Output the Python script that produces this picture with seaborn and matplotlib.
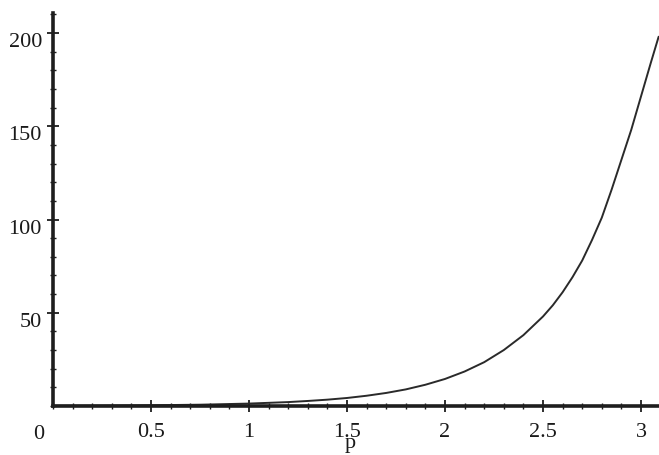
import numpy as np
import pandas as pd
import seaborn as sns
import matplotlib.pyplot as plt
from matplotlib.ticker import MultipleLocator

# values
p_values = [0.0, 0.25, 0.5, 0.75, 1.0, 1.1, 1.2, 1.3, 1.4, 1.5, 1.6, 1.7,
            1.8, 1.9, 2.0, 2.1, 2.2, 2.3, 2.4, 2.5, 2.55, 2.6, 2.65, 2.7,
            2.75, 2.8, 2.85, 2.9, 2.95, 3.0, 3.05, 3.09]
y_values = [0.1, 0.2, 0.4, 0.7, 1.3, 1.7, 2.1, 2.7, 3.4, 4.3, 5.5, 7.0,
            8.9, 11.4, 14.5, 18.5, 23.5, 30.0, 38.0, 48.0, 54.0, 61.0, 69.0, 78.0,
            89.0, 101.0, 116.0, 132.0, 148.0, 166.0, 184.0, 198.0]

x_ticks = [0.5, 1, 1.5, 2, 2.5, 3]
x_tick_labels = ["0.5", "1", "1.5", "2", "2.5", "3"]
y_ticks = [50, 100, 150, 200]
y_tick_labels = ["50", "100", "150", "200"]

df = pd.DataFrame({"p": p_values, "y": y_values})

sns.set_style("ticks")
plt.rcParams["font.family"] = ["Liberation Serif", "DejaVu Serif"]

fig = plt.figure(figsize=(6.59, 4.55), dpi=100)
ax = fig.add_axes([53 / 659, 49 / 455, 606 / 659, 393 / 455])

sns.lineplot(data=df, x="p", y="y", ax=ax, color="#2a2a2a", linewidth=1.4)

ax.set_xlim(0, 606 / 196)
ax.set_ylim(0, 393 / 1.865)

for side in ["top", "right"]:
    ax.spines[side].set_visible(False)
for side in ["left", "bottom"]:
    ax.spines[side].set_linewidth(2.6)
    ax.spines[side].set_color("#1e1e1e")

ax.set_xticks(x_ticks)
ax.set_xticklabels(x_tick_labels)
ax.set_yticks(y_ticks)
ax.set_yticklabels(y_tick_labels)
ax.xaxis.set_minor_locator(MultipleLocator(0.1))
ax.yaxis.set_minor_locator(MultipleLocator(10))

ax.tick_params(which="major", direction="inout", length=8, width=1.3,
               color="#1e1e1e", labelsize=16, labelcolor="#1a1a1a")
ax.tick_params(which="minor", direction="inout", length=4, width=1.0,
               color="#1e1e1e")
ax.tick_params(axis="x", which="major", pad=8)
ax.tick_params(axis="y", which="major", pad=4)
for lab in ax.get_yticklabels():
    lab.set_verticalalignment("top")

ax.set_xlabel("p", fontsize=16, color="#1a1a1a")
ax.set_ylabel("")
ax.xaxis.set_label_coords(0.49, -0.072)

# origin label, Maple style
ax.annotate("0", xy=(0, 0), xytext=(-10, -14), textcoords="offset points",
            ha="center", va="top", fontsize=16, color="#1a1a1a",
            annotation_clip=False)

fig.savefig("out.png", dpi=100, facecolor="white")
